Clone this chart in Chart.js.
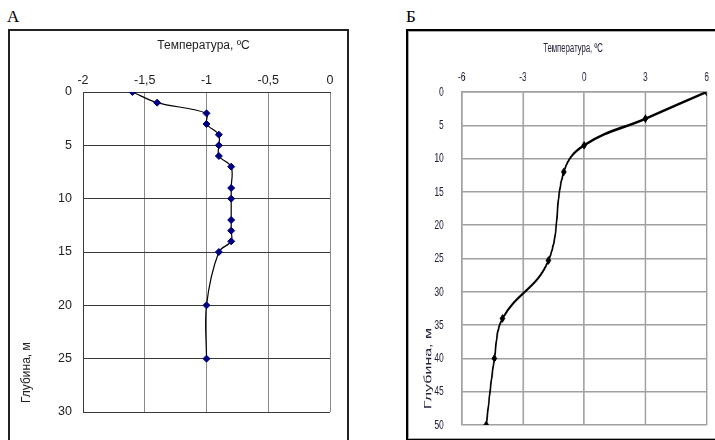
<!DOCTYPE html>
<html>
<head>
<meta charset="utf-8">
<script src="https://cdn.jsdelivr.net/npm/chart.js@4"></script>
<style>
  body { margin: 0; width: 715px; height: 440px; overflow: hidden; background: #fff; position: relative; }
  .lbl { position: absolute; font-family: 'Liberation Serif', serif; font-size: 17px; color: #000; }
  #boxA { position: absolute; left: 8px; top: 29px; border: 2px solid #222; }
  #boxB { position: absolute; left: 406px; top: 29px; width: 330px; border: 2px solid #000; }
  #boxB > div { border: 1px solid #aaa; height: 406px; }
  #chartB { transform: scaleX(0.62); transform-origin: 0 0; }
  canvas { display: block; }
</style>
</head>
<body>
<div class="lbl" style="left:7px;top:7px;">А</div>
<div class="lbl" style="left:406px;top:7px;">Б</div>
<div id="boxA"><canvas id="chartA" width="337" height="420"></canvas></div>
<div id="boxB"><div><canvas id="chartB" width="516" height="406"></canvas></div></div>
<script>
// Панель А: глубина (м) и температура (°C)
const depthA = [0, 1, 2, 3, 4, 5, 6, 7, 9, 10, 12, 13, 14, 15, 20, 25];
const tempA = [-1.6, -1.4, -1.0, -1.0, -0.9, -0.9, -0.9, -0.8, -0.8, -0.8, -0.8, -0.8, -0.8, -0.9, -1.0, -1.0];
const tempTicksA = [-2, -1.5, -1, -0.5, 0];
const depthTicksA = [0, 5, 10, 15, 20, 25, 30];

// Панель Б
const depthB = [0, 4, 8, 12, 25.3, 34, 40, 50];
const tempB = [6, 3, 0, -1, -1.75, -4, -4.4, -4.8];
const tempTicksB = [-6, -3, 0, 3, 6];
const depthTicksB = [0, 5, 10, 15, 20, 25, 30, 35, 40, 45, 50];

const xTitle = 'Температура, ºC';
const yTitle = 'Глубина, м';

// подписи осей рисуем сами, чтобы поставить их как в оригинале
const axisTitles = {
  id: 'axisTitles',
  afterDraw(chart, args, o) {
    const { ctx, chartArea } = chart;
    ctx.save();
    ctx.fillStyle = o.color;
    ctx.textAlign = 'center';
    ctx.textBaseline = 'middle';
    ctx.font = o.font;
    ctx.fillText(o.xText, (chartArea.left + chartArea.right) / 2 + o.xShift, o.xY);
    ctx.font = o.yFont;
    ctx.translate(chartArea.left - o.yGap, chartArea.bottom - o.yBottom);
    ctx.rotate(-Math.PI / 2);
    ctx.textAlign = 'left';
    ctx.fillText(o.yText, 0, 0);
    ctx.restore();
  }
};

function makeChart(id, cfg) {
  const pts = cfg.depth.map((d, i) => ({ x: cfg.temp[i], y: d }));
  return new Chart(document.getElementById(id), {
    type: 'scatter',
    data: {
      datasets: [{
        data: pts,
        showLine: true,
        borderColor: '#000',
        borderWidth: cfg.lineWidth,
        tension: cfg.tension,
        pointStyle: 'rectRot',
        pointRadius: cfg.markSize,
        pointBackgroundColor: cfg.markColor,
        pointBorderColor: cfg.markColor,
        pointBorderWidth: 1
      }]
    },
    options: {
      responsive: false,
      animation: false,
      devicePixelRatio: 1,
      layout: { padding: cfg.padding },
      plugins: {
        legend: { display: false },
        tooltip: { enabled: false },
        axisTitles: cfg.titles
      },
      scales: {
        x: {
          position: 'top',
          min: cfg.xTicks[0],
          max: cfg.xTicks[cfg.xTicks.length - 1],
          afterBuildTicks: s => { s.ticks = cfg.xTicks.map(v => ({ value: v })); },
          afterFit: s => { s.height = cfg.xHeight; },
          grid: { color: cfg.xGrid, lineWidth: cfg.xGridWidth, drawTicks: false },
          border: { color: cfg.yGrid, width: cfg.yGridWidth },
          ticks: {
            font: cfg.tickFont, color: cfg.tickColor, padding: cfg.xPad, maxRotation: 0,
            callback: v => String(v).replace('.', ',')
          }
        },
        y: {
          reverse: true,
          min: cfg.yTicks[0],
          max: cfg.yTicks[cfg.yTicks.length - 1],
          afterBuildTicks: s => { s.ticks = cfg.yTicks.map(v => ({ value: v })); },
          // ширина оси фиксирована, лишний отступ снизу/сверху не нужен
          afterFit: s => { s.width = cfg.yWidth; s.paddingTop = 0; s.paddingBottom = 0; },
          grid: { color: cfg.yGrid, lineWidth: cfg.yGridWidth, drawTicks: false },
          border: { color: cfg.yBorder, width: cfg.xGridWidth },
          ticks: { font: cfg.tickFont, color: cfg.tickColor, padding: cfg.yPad }
        }
      }
    },
    plugins: [axisTitles]
  });
}

makeChart('chartA', {
  depth: depthA, temp: tempA, xTicks: tempTicksA, yTicks: depthTicksA,
  lineWidth: 1.2, tension: 0.35, markColor: '#000080', markSize: 3.5,
  padding: { left: 0, top: 0, right: 17, bottom: 39 },
  xHeight: 61, yWidth: 73, xPad: 4, yPad: 11,
  xGrid: '#8a8a8a', yGrid: '#3a3a3a', yBorder: '#3a3a3a', xGridWidth: 1, yGridWidth: 1,
  tickFont: { family: "'Liberation Sans', Arial, sans-serif", size: 12.5 }, tickColor: '#222',
  titles: {
    font: "12px 'Liberation Sans', Arial, sans-serif", yFont: "12px 'Liberation Sans', Arial, sans-serif",
    color: '#222',
    xText: xTitle, xShift: -3, xY: 15,
    yText: yTitle, yGap: 56, yBottom: 9
  }
});

// Б сжата по горизонтали (scaleX 0.62), поэтому отступы по x в единицах холста
makeChart('chartB', {
  depth: depthB, temp: tempB, xTicks: tempTicksB, yTicks: depthTicksB,
  lineWidth: 2.6, tension: 0.4, markColor: '#000', markSize: 4,
  padding: { left: 0, top: 0, right: 36, bottom: 13 },
  xHeight: 60, yWidth: 85, xPad: 7, yPad: 29,
  xGrid: '#a0a0a0', yGrid: '#a0a0a0', yBorder: '#a0a0a0', xGridWidth: 2.4, yGridWidth: 1.5,
  tickFont: { family: "'Liberation Sans', Arial, sans-serif", size: 13.5 },
  tickColor: '#22223a',
  titles: {
    font: "12.5px 'Liberation Sans', Arial, sans-serif", yFont: "16px 'Liberation Sans', Arial, sans-serif",
    color: '#22223a',
    xText: xTitle, xShift: -18, xY: 17,
    yText: yTitle, yGap: 53, yBottom: 16
  }
});
</script>
</body>
</html>
